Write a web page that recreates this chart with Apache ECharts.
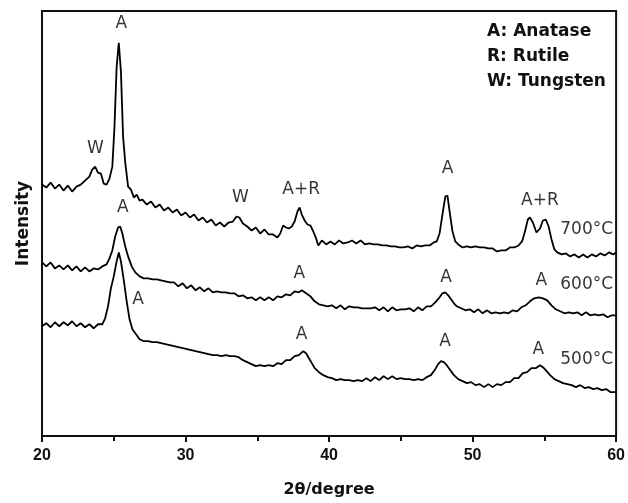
<!DOCTYPE html>
<html>
<head>
<meta charset="utf-8">
<script src="https://cdn.jsdelivr.net/npm/echarts@6/dist/echarts.min.js"></script>
<style>
html,body{margin:0;padding:0;background:#fff;}
#chart{width:628px;height:503px;}
</style>
</head>
<body>
<div id="chart"></div>
<script>
// 2theta (degree), intensity (a.u., offset traces)
const s700 = [
[20.0,252],[20.3,249],[20.6,254],[20.9,248],[21.2,252],[21.5,246],[21.8,251],[22.1,245],[22.4,250],[22.7,252],
[23.0,256],[23.3,260],[23.5,267],[23.7,270],[23.9,264],[24.1,263],[24.3,253],[24.5,252],[24.7,258],[24.9,270],
[25.05,310],[25.2,370],[25.35,394],[25.5,365],[25.65,300],[25.8,274],[26.0,250],[26.2,247],[26.4,239],[26.6,242],
[26.8,236],[27.0,237],[27.3,232],[27.6,235],[27.9,229],[28.2,232],[28.5,226],[28.8,229],[29.1,224],[29.4,227],
[29.7,221],[30.0,224],[30.3,219],[30.6,222],[30.9,216],[31.2,219],[31.5,214],[31.8,217],[32.1,211],[32.4,214],
[32.7,210],[33.0,214],[33.3,215],[33.55,220],[33.75,219],[34.0,213],[34.3,210],[34.6,206],[34.9,209],[35.2,203],
[35.5,207],[35.8,202],[36.1,202],[36.4,199],[36.6,203],[36.8,211],[37.0,209],[37.2,208],[37.4,210],[37.6,215],
[37.8,225],[37.95,229],[38.1,222],[38.3,216],[38.5,212],[38.7,211],[38.9,205],[39.1,198],[39.25,191],[39.5,196],
[39.8,192],[40.1,195],[40.4,192],[40.7,196],[41.0,193],[41.3,194],[41.6,196],[41.9,193],[42.2,196],[42.5,192],
[42.8,193],[43.1,192],[43.4,192],[43.7,191],[44.0,191],[44.3,190],[44.6,190],[44.9,189],[45.2,189],[45.5,190],
[45.8,188],[46.1,191],[46.4,190],[46.7,191],[47.0,191],[47.3,194],[47.5,195],[47.7,203],[47.9,222],[48.1,240],
[48.25,241],[48.4,225],[48.6,205],[48.8,195],[49.0,192],[49.3,189],[49.6,190],[49.9,189],[50.2,190],[50.5,189],
[50.8,189],[51.1,188],[51.4,188],[51.7,185],[52.0,186],[52.3,186],[52.6,189],[52.9,189],[53.2,191],[53.45,195],
[53.65,205],[53.85,217],[54.0,219],[54.2,214],[54.45,204],[54.7,208],[54.9,216],[55.1,217],[55.3,210],[55.5,197],
[55.7,187],[55.9,184],[56.2,182],[56.5,183],[56.8,180],[57.1,182],[57.4,179],[57.7,182],[58.0,179],[58.3,182],
[58.6,180],[58.9,183],[59.2,181],[59.5,184],[59.8,182],[60.0,184]
];
const s600 = [
[20.0,174],[20.3,170],[20.6,174],[20.9,168],[21.2,171],[21.5,167],[21.8,171],[22.1,166],[22.4,170],[22.7,165],
[23.0,169],[23.3,165],[23.6,168],[23.9,167],[24.2,170],[24.5,172],[24.7,178],[24.9,186],[25.1,200],[25.3,209],
[25.45,210],[25.6,203],[25.8,190],[26.0,180],[26.25,170],[26.5,164],[26.8,160],[27.1,158],[27.4,158],[27.7,157],
[28.0,157],[28.3,156],[28.6,155],[28.9,154],[29.2,154],[29.5,150],[29.8,153],[30.1,148],[30.4,151],[30.7,146],
[31.0,149],[31.3,145],[31.6,148],[31.9,144],[32.2,145],[32.5,144],[32.8,144],[33.1,143],[33.4,143],[33.7,140],
[34.0,141],[34.3,138],[34.6,139],[34.9,136],[35.2,139],[35.5,136],[35.8,139],[36.1,136],[36.4,140],[36.7,139],
[37.0,142],[37.3,141],[37.6,145],[37.9,144],[38.1,146],[38.4,143],[38.7,140],[39.0,135],[39.3,132],[39.6,131],
[39.9,130],[40.2,131],[40.5,128],[40.8,131],[41.1,127],[41.4,130],[41.7,129],[42.0,129],[42.3,128],[42.6,128],
[42.9,128],[43.2,129],[43.5,126],[43.8,129],[44.1,125],[44.4,129],[44.7,126],[45.0,127],[45.3,127],[45.6,128],
[45.9,125],[46.2,129],[46.5,126],[46.8,130],[47.1,130],[47.4,134],[47.7,139],[47.9,143],[48.1,144],[48.3,141],
[48.5,137],[48.7,133],[48.9,130],[49.2,128],[49.5,126],[49.8,127],[50.1,124],[50.4,127],[50.7,123],[51.0,126],
[51.3,123],[51.6,124],[51.9,123],[52.2,124],[52.5,123],[52.8,126],[53.1,125],[53.4,129],[53.7,131],[54.0,135],
[54.3,138],[54.6,139],[54.9,138],[55.2,136],[55.5,131],[55.8,127],[56.1,125],[56.4,123],[56.7,124],[57.0,123],
[57.3,124],[57.6,121],[57.9,124],[58.2,121],[58.5,122],[58.8,121],[59.1,122],[59.4,119],[59.7,121],[60.0,121]
];
const s500 = [
[20.0,110],[20.3,113],[20.6,109],[20.9,114],[21.2,110],[21.5,114],[21.8,111],[22.1,115],[22.4,110],[22.7,113],
[23.0,109],[23.3,112],[23.6,108],[23.9,112],[24.2,112],[24.4,118],[24.6,130],[24.8,148],[25.0,160],[25.2,175],
[25.35,184],[25.5,175],[25.7,156],[25.9,135],[26.1,117],[26.3,107],[26.5,103],[26.8,97],[27.1,95],[27.4,95],
[27.7,94],[28.0,94],[28.3,93],[28.6,92],[28.9,91],[29.2,90],[29.5,89],[29.8,88],[30.1,87],[30.4,86],
[30.7,85],[31.0,84],[31.3,83],[31.6,82],[31.9,81],[32.2,81],[32.5,80],[32.8,81],[33.1,80],[33.4,80],
[33.7,79],[34.0,76],[34.3,74],[34.6,72],[34.9,70],[35.2,71],[35.5,70],[35.8,71],[36.1,70],[36.4,73],
[36.7,72],[37.0,76],[37.3,76],[37.6,80],[37.9,81],[38.2,85],[38.4,83],[38.6,78],[38.8,73],[39.0,68],
[39.3,64],[39.6,61],[39.9,59],[40.2,58],[40.5,56],[40.8,57],[41.1,56],[41.4,56],[41.7,55],[42.0,56],
[42.3,55],[42.6,58],[42.9,55],[43.2,59],[43.5,56],[43.8,60],[44.1,57],[44.4,60],[44.7,57],[45.0,58],
[45.3,57],[45.6,57],[45.9,56],[46.2,57],[46.5,56],[46.8,59],[47.1,61],[47.4,67],[47.6,72],[47.8,75],
[48.0,74],[48.2,71],[48.4,67],[48.7,61],[49.0,57],[49.3,55],[49.6,53],[49.9,54],[50.2,51],[50.5,52],
[50.8,49],[51.1,52],[51.4,49],[51.7,52],[52.0,51],[52.3,54],[52.6,54],[52.9,58],[53.2,58],[53.5,63],
[53.8,64],[54.1,68],[54.4,68],[54.7,71],[54.9,69],[55.1,66],[55.4,61],[55.7,57],[56.0,55],[56.3,53],
[56.6,52],[56.9,51],[57.2,49],[57.5,51],[57.8,48],[58.1,49],[58.4,47],[58.7,48],[59.0,46],[59.3,47],
[59.6,44],[60.0,44]
];
// peak / trace annotations: [2theta, intensity, text]
const peakLabels = [
[25.52,413,'A'],[23.72,288,'W'],[33.82,239,'W'],[38.06,247,'A+R'],[48.26,268,'A'],[54.69,236,'A+R'],
[25.63,229,'A'],[37.92,163,'A'],[48.16,159,'A'],[54.79,156,'A'],
[26.70,137,'A'],[38.09,102,'A'],[48.09,95,'A'],[54.58,87,'A']
];
const tempLabels = [[57.95,207,'700°C'],[57.95,152,'600°C'],[57.95,77,'500°C']];
const legendLines = ['A: Anatase','R: Rutile','W: Tungsten'];
const xTicks = {min:20, max:60, interval:10};
const yRange = {min:0, max:426};

const chart = echarts.init(document.getElementById('chart'), null, {renderer:'canvas'});
const lineStyle = {color:'#000', width:1.8};
function lineSeries(name, data){
  return {name, type:'line', data, symbol:'none', showSymbol:false, lineStyle, animation:false, z:3};
}
function textSeries(name, arr){
  return {
    name, type:'scatter', symbolSize:0, animation:false, silent:true, z:4,
    data: arr.map(d => ({value:[d[0], d[1]], name:d[2]})),
    label:{show:true, position:'inside', formatter:'{b}', color:'#000',
      fontFamily:'DejaVu Sans', fontSize:17}
  };
}
chart.setOption({
  backgroundColor:'#fff',
  animation:false,
  grid:{left:42, right:10, top:11, bottom:66, show:true, borderColor:'#111', borderWidth:2, backgroundColor:'transparent'},
  xAxis:{
    type:'value', min:xTicks.min, max:xTicks.max, interval:xTicks.interval,
    name:'2θ/degree', nameLocation:'middle', nameGap:46,
    nameTextStyle:{fontFamily:'DejaVu Sans', fontWeight:'bold', fontSize:16, color:'#111'},
    axisLine:{show:true, onZero:false, lineStyle:{color:'#111', width:2}},
    axisTick:{show:true, inside:false, length:6, lineStyle:{color:'#111', width:2}},
    minorTick:{show:true, splitNumber:2, length:5, lineStyle:{color:'#111', width:2}},
    axisLabel:{margin:12, fontFamily:'Liberation Sans', fontWeight:'bold', fontSize:16, color:'#111'},
    splitLine:{show:false}
  },
  yAxis:{
    type:'value', min:yRange.min, max:yRange.max,
    name:'Intensity', nameLocation:'middle', nameGap:10, nameRotate:90,
    nameTextStyle:{fontFamily:'DejaVu Sans', fontWeight:'bold', fontSize:17, color:'#111'},
    axisLine:{show:true, lineStyle:{color:'#111', width:2}},
    axisTick:{show:false}, axisLabel:{show:false}, splitLine:{show:false}
  },
  graphic:[{
    type:'text', left:487, top:19, silent:true,
    style:{text:legendLines.join('\n'), font:'bold 17px "DejaVu Sans"', fill:'#111', lineHeight:25}
  }],
  series:[
    lineSeries('700°C', s700),
    lineSeries('600°C', s600),
    lineSeries('500°C', s500),
    textSeries('peaks', peakLabels),
    textSeries('temps', tempLabels)
  ]
});
</script>
</body>
</html>
